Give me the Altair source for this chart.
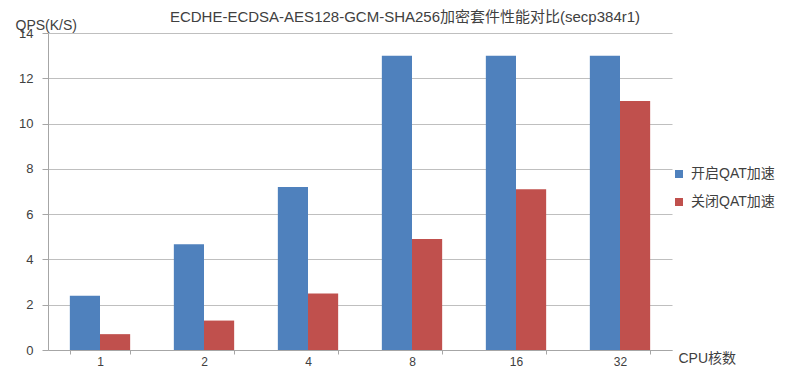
import altair as alt
import pandas as pd

cores = ["1", "2", "4", "8", "16", "32"]
qat_on = [2.4, 4.67, 7.2, 13.0, 13.0, 13.0]
qat_off = [0.7, 1.3, 2.5, 4.9, 7.1, 11.0]
series = ["开启QAT加速", "关闭QAT加速"]
colors = ["#4F81BD", "#C0504D"]

rows = []
for c, a, b in zip(cores, qat_on, qat_off):
    rows.append({"cores": c, "series": series[0], "qps": a})
    rows.append({"cores": c, "series": series[1], "qps": b})
df = pd.DataFrame(rows)

FONT = "Liberation Sans, Noto Sans CJK SC, sans-serif"

chart = alt.Chart(df).mark_bar().encode(
    x=alt.X("cores:N", sort=cores,
            scale=alt.Scale(paddingInner=0.42, paddingOuter=0.21),
            axis=alt.Axis(title="CPU核数", labelAngle=0, tickBand="extent",
                          tickSize=4, labelPadding=2, labelFontSize=12,
                          labelColor="#404040", domainColor="#A6A6A6",
                          tickColor="#A6A6A6",
                          titleX=630, titleY=8, titleAlign="left",
                          titleBaseline="middle", titleFontSize=14,
                          titleFontWeight="normal", titleColor="#404040")),
    xOffset=alt.XOffset("series:N", sort=series,
                        scale=alt.Scale(paddingInner=0, paddingOuter=0)),
    y=alt.Y("qps:Q",
            scale=alt.Scale(domain=[0, 14], nice=False),
            axis=alt.Axis(title="QPS(K/S)", values=[0, 2, 4, 6, 8, 10, 12, 14],
                          tickSize=6, labelPadding=9, labelFontSize=13,
                          labelColor="#404040", domainColor="#A6A6A6",
                          tickColor="#A6A6A6", gridColor="#BFBFBF",
                          titleAngle=0, titleX=-33, titleY=-8,
                          titleAlign="left", titleBaseline="middle",
                          titleFontSize=14, titleFontWeight="normal",
                          titleColor="#404040")),
    color=alt.Color("series:N", sort=series,
                    scale=alt.Scale(domain=series, range=colors),
                    legend=alt.Legend(title=None, orient="none", legendX=624,
                                      legendY=134, symbolType="square",
                                      symbolSize=64, symbolStrokeWidth=0,
                                      labelFontSize=14, labelColor="#404040",
                                      labelOffset=5, rowPadding=14)),
).properties(
    width=624,
    height=317,
    autosize=alt.AutoSizeParams(type="none"),
    padding={"left": 40, "top": 25, "right": 110, "bottom": 20},
    title=alt.Title("ECDHE-ECDSA-AES128-GCM-SHA256加密套件性能对比(secp384r1)",
                    fontSize=15, fontWeight="normal", color="#404040",
                    anchor="middle", dx=45, dy=15, offset=8),
).configure(
    font=FONT,
).configure_view(stroke=None)

chart.save("out.html", embed_options={"renderer": "svg", "actions": False})
